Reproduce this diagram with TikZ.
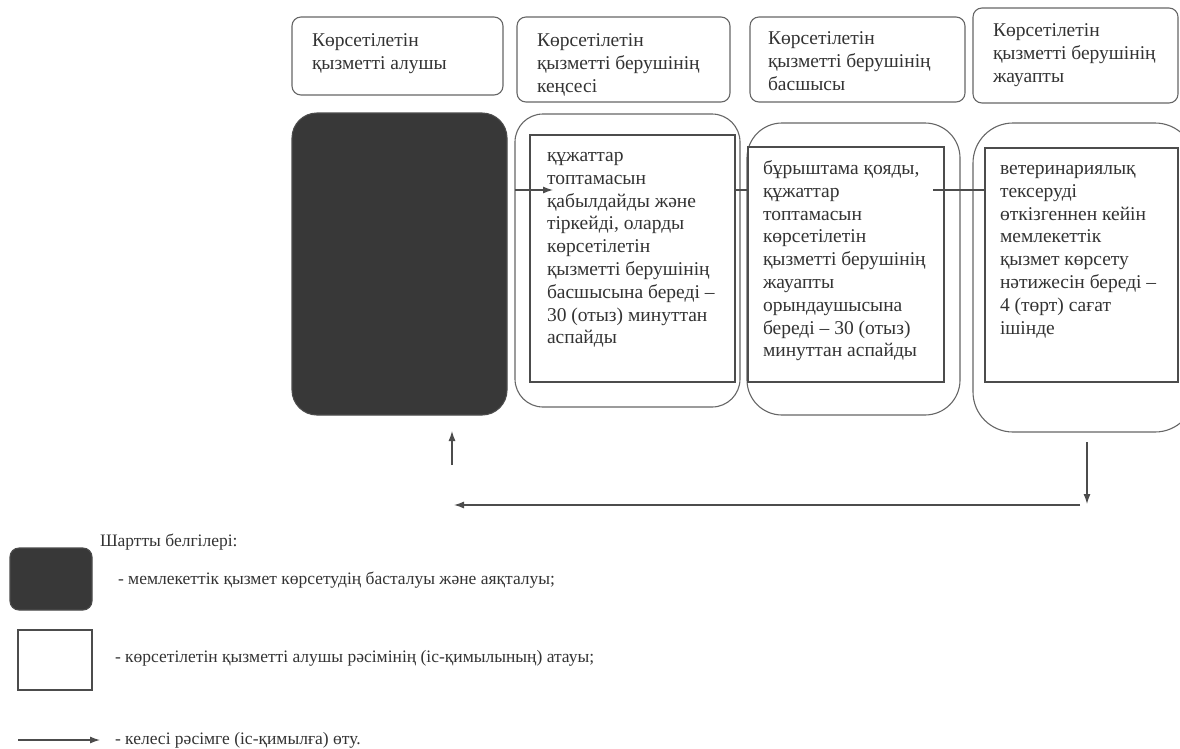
\documentclass[tikz,border=0pt]{standalone}
\usepackage{fontspec}
\setmainfont{Liberation Serif}
\usetikzlibrary{positioning, arrows.meta}
\begin{document}
\begin{tikzpicture}[x=1pt, y=-1pt, >={Latex[length=10pt, width=7pt]},
    every node/.style={inner sep=0pt, outer sep=0pt},
    head/.style={draw=black!60, line width=1.1pt, rounded corners=9pt},
    headtext/.style={align=left, font=\fontsize{19.5}{22.8}\selectfont, text=black!80},
    rim/.style={draw=black!60, line width=1.1pt, rounded corners=#1},
    inbox/.style={draw=black!70, line width=1.1pt},
    darkbox/.style={draw=black!70, line width=1.1pt, fill=black!78, rounded corners=#1},
    steptext/.style={align=left, font=\fontsize{19.5}{22.8}\selectfont, text=black!80},
    keytext/.style={align=left, font=\fontsize{17.5}{20}\selectfont, text=black!80},
    flow/.style={line width=1.2pt, draw=black!70}]
    \useasboundingbox (0, 0) rectangle (1180, 748);
        % column heads
        \node[head, minimum width=211, minimum height=78] (h1) at (397.5, 56) {};
        \node[head, minimum width=213, minimum height=85] (h2) at (623.5, 59.5) {};
        \node[head, minimum width=215, minimum height=85] (h3) at (857.5, 59.5) {};
        \node[head, minimum width=205, minimum height=95] (h4) at (1075.5, 55.5) {};
        \node[headtext, anchor=north west, below right=13.5pt and 20pt of h1.north west] (h1t)
            {\strut Көрсетілетін\\қызметті алушы};
        \node[headtext, anchor=north west, below right=13.5pt and 20pt of h2.north west] (h2t)
            {\strut Көрсетілетін\\қызметті берушінің\\кеңсесі};
        \node[headtext, anchor=north west, below right=11.5pt and 18pt of h3.north west] (h3t)
            {\strut Көрсетілетін\\қызметті берушінің\\басшысы};
        \node[headtext, anchor=north west, below right=12.5pt and 20pt of h4.north west] (h4t)
            {\strut Көрсетілетін\\қызметті берушінің\\жауапты};
        % start / end
        \node[darkbox=25pt, minimum width=215, minimum height=302] (start) at (399.5, 264) {};
        % steps
        \node[rim=28pt, minimum width=225, minimum height=293] (o2) at (627.5, 260.5) {};
        \node[rim=35pt, minimum width=213, minimum height=292] (o3) at (853.5, 269) {};
        \node[rim=40pt, minimum width=222, minimum height=309] (o4) at (1084, 277.5) {};
        \node[inbox, minimum width=205, minimum height=247] (i2) at (632.5, 258.5) {};
        \node[inbox, minimum width=196, minimum height=235] (i3) at (846, 264.5) {};
        \node[inbox, minimum width=193, minimum height=234] (i4) at (1081.5, 265) {};
        \node[steptext, anchor=north west, below right=10.5pt and 17pt of i2.north west] (t2)
            {\strut құжаттар\\топтамасын\\қабылдайды және\\тіркейді, оларды\\көрсетілетін\\қызметті берушінің\\басшысына береді –\\30 (отыз) минуттан\\аспайды};
        \node[steptext, anchor=north west, below right=11.5pt and 15pt of i3.north west] (t3)
            {\strut бұрыштама қояды,\\құжаттар\\топтамасын\\көрсетілетін\\қызметті берушінің\\жауапты\\орындаушысына\\береді – 30 (отыз)\\минуттан аспайды};
        \node[steptext, anchor=north west, below right=10.5pt and 15pt of i4.north west] (t4)
            {\strut ветеринариялық\\тексеруді\\өткізгеннен кейін\\мемлекеттік\\қызмет көрсету\\нәтижесін береді –\\4 (төрт) сағат\\ішінде};
        % connectors
        \coordinate (a1) at (553, 190);
        \coordinate (b1) at (933, 190);
        \draw[flow, ->] (o2.west |- a1) -- (a1);
        \draw[flow] (i2.east |- a1) -- (i3.west |- a1);
        \draw[flow] (b1) -- (i4.west |- b1);
        \coordinate (d0) at (1087, 442);
        \coordinate (d1) at (1087, 504);
        \coordinate (r0) at (1080, 505);
        \coordinate (r1) at (454, 505);
        \coordinate (u0) at (452, 465);
        \coordinate (u1) at (452, 431);
        \draw[flow, ->] (d0) -- (d1);
        \draw[flow, ->] (r0) -- (r1);
        \draw[flow, ->] (u0) -- (u1);
        % legend
        \node[keytext, anchor=west] (keyhead) at (100, 542) {Шартты белгілері:};
        \node[darkbox=9pt, minimum width=82, minimum height=62] (k1) at (51, 579) {};
        \node[keytext, anchor=west] (k1t) at (118, 580)
            {- мемлекеттік қызмет көрсетудің басталуы және аяқталуы;};
        \node[inbox, minimum width=74, minimum height=60] (k2) at (55, 660) {};
        \node[keytext, anchor=west] (k2t) at (115, 658)
            {- көрсетілетін қызметті алушы рәсімінің (іс-қимылының) атауы;};
        \coordinate (k3a) at (18, 740);
        \coordinate (k3b) at (100, 740);
        \draw[flow, ->] (k3a) -- (k3b);
        \node[keytext, anchor=west] (k3t) at (115, 740) {- келесі рәсімге (іс-қимылға) өту.};
\end{tikzpicture}
\end{document}
